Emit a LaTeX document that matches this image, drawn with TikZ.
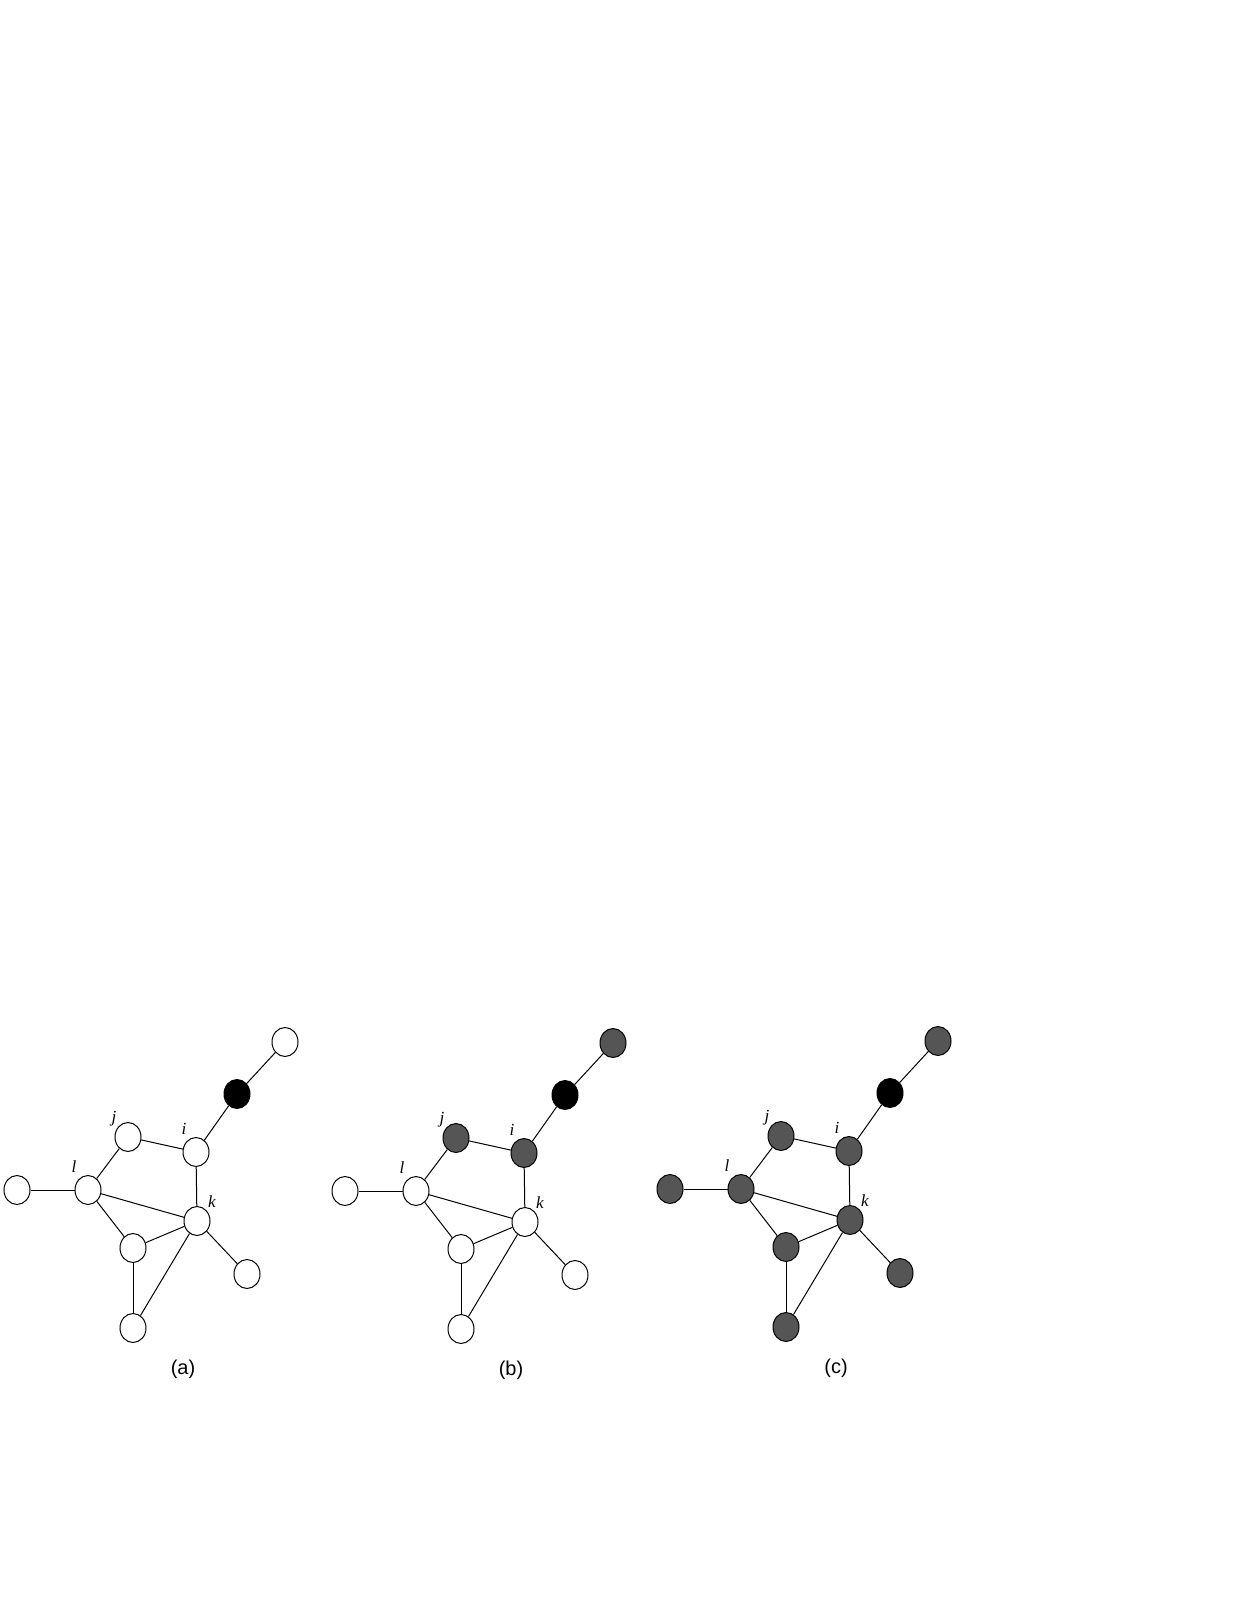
\documentclass[tikz,border=0pt]{standalone}
\usepackage{fontspec}
\setmainfont{Liberation Serif}
\newfontfamily\capfont{Liberation Sans}
\usetikzlibrary{shapes.geometric}
\definecolor{nodegray}{RGB}{85,85,85}
\tikzset{
  vtx/.style={ellipse,draw=black,line width=0.5pt,minimum width=13pt,minimum height=14.5pt,inner sep=0pt},
  edge/.style={line width=0.5pt},
  lab/.style={font=\fontsize{8.5}{9}\selectfont\itshape,inner sep=0pt},
  captext/.style={font=\capfont\fontsize{10}{12}\selectfont,inner sep=0pt}
}
% #1 prefix, #2 x shift, #3 y shift, #4 fill of top node, #5 fill of j and i, #6 fill of the others, #7 caption
\newcommand{\mygraph}[7]{%
\begin{scope}[shift={(#2,#3)}]
\node[vtx,fill=#4] (#1t) at (285,1042) {};
\node[vtx,fill=black] (#1s) at (237,1094) {};
\node[vtx,fill=#5] (#1j) at (128,1137) {};
\node[vtx,fill=#5] (#1i) at (196,1152) {};
\node[vtx,fill=#6] (#1l) at (88,1190) {};
\node[vtx,fill=#6] (#1w) at (17,1190) {};
\node[vtx,fill=#6] (#1k) at (197,1221) {};
\node[vtx,fill=#6] (#1m) at (133,1248) {};
\node[vtx,fill=#6] (#1r) at (247,1274) {};
\node[vtx,fill=#6] (#1b) at (133,1328) {};
\draw[edge] (#1t) -- (#1s);
\draw[edge] (#1s) -- (#1i);
\draw[edge] (#1j) -- (#1i);
\draw[edge] (#1j) -- (#1l);
\draw[edge] (#1w) -- (#1l);
\draw[edge] (#1l) -- (#1k);
\draw[edge] (#1l) -- (#1m);
\draw[edge] (#1i) -- (#1k);
\draw[edge] (#1k) -- (#1m);
\draw[edge] (#1k) -- (#1b);
\draw[edge] (#1k) -- (#1r);
\draw[edge] (#1m) -- (#1b);
\node[lab] (#1lj) at (114,1119) {j};
\node[lab] (#1li) at (184,1129) {i};
\node[lab] (#1ll) at (74,1167) {l};
\node[lab] (#1lk) at (212,1202) {k};
\node[captext] (#1cap) at (183,1369) {#7};
\end{scope}}
\begin{document}
\begin{tikzpicture}[x=0.5pt,y=-0.5pt]
\useasboundingbox (0,0) rectangle (1246,1612);
\mygraph{a}{0}{0}{white}{white}{white}{(a)}
\mygraph{b}{328}{1}{nodegray}{nodegray}{white}{(b)}
\mygraph{c}{653}{-1}{nodegray}{nodegray}{nodegray}{(c)}
\end{tikzpicture}
\end{document}
